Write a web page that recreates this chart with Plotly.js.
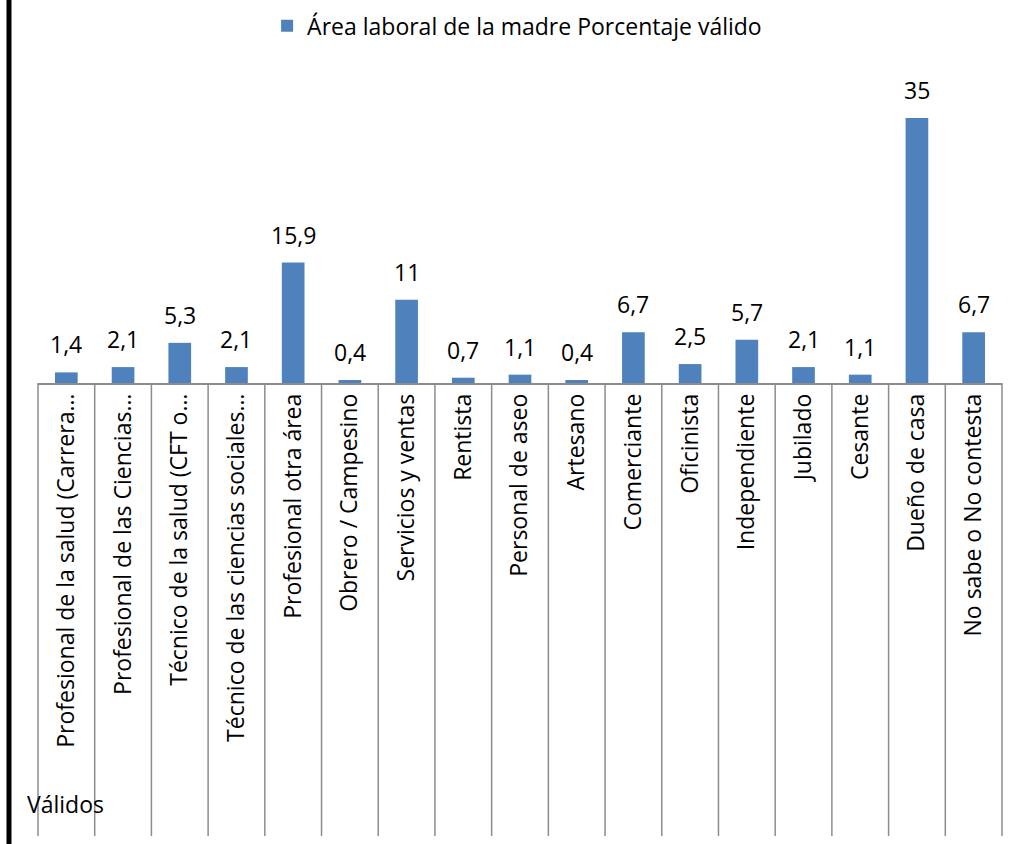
<!DOCTYPE html>
<html>
<head>
<meta charset="utf-8">
<script src="https://cdn.plot.ly/plotly-3.0.1.min.js"></script>
<style>html,body{margin:0;padding:0;background:#fff;}#chart{width:1019px;height:844px;}</style>
</head>
<body>
<div id="chart"></div>
<script>
const categories = [
  "Profesional de la salud (Carrera…",
  "Profesional de las Ciencias…",
  "Técnico de la salud (CFT o…",
  "Técnico de las ciencias sociales…",
  "Profesional otra área",
  "Obrero / Campesino",
  "Servicios y ventas",
  "Rentista",
  "Personal de aseo",
  "Artesano",
  "Comerciante",
  "Oficinista",
  "Independiente",
  "Jubilado",
  "Cesante",
  "Dueño de casa",
  "No sabe o No contesta"
];
const values = [1.4, 2.1, 5.3, 2.1, 15.9, 0.4, 11, 0.7, 1.1, 0.4, 6.7, 2.5, 5.7, 2.1, 1.1, 35, 6.7];
const seriesName = "Área laboral de la madre Porcentaje válido";
const groupLabel = "Válidos";

const FONT = "Open Sans, DejaVu Sans, sans-serif";
const FS = 23;
const n = categories.length;

const shapes = [];
for (let i = 0; i <= n; i++) {
  shapes.push({type: 'line', xref: 'paper', yref: 'paper', x0: i / n, x1: i / n, y0: 0, y1: -1.495,
    line: {color: '#8c8c8c', width: 1.5}});
}
shapes.push({type: 'line', xref: 'paper', yref: 'paper', x0: -0.0301, x1: -0.0301, y0: -1.6, y1: 1.4,
  line: {color: '#000000', width: 5}});

const annotations = values.map((v, i) => ({
  x: categories[i], y: v, xref: 'x', yref: 'y',
  text: String(v).replace('.', ','), showarrow: false,
  yanchor: 'bottom', yshift: 10,
  font: {family: FONT, size: FS, color: '#000'}
}));
annotations.push({xref: 'paper', yref: 'paper', x: -0.013, y: -1.39, xanchor: 'left', yanchor: 'middle',
  text: groupLabel, showarrow: false, font: {family: FONT, size: FS, color: '#000'}});

const trace = {
  type: 'bar', x: categories, y: values, name: seriesName,
  marker: {color: '#4F81BD'}, width: 0.4, showlegend: true
};

const layout = {
  width: 1019, height: 844,
  margin: {l: 38, r: 17, t: 80, b: 461},
  paper_bgcolor: '#fff', plot_bgcolor: '#fff',
  font: {family: FONT, size: FS, color: '#000'},
  showlegend: true,
  legend: {orientation: 'h', x: 0.497, xanchor: 'center', y: 0.995, yref: 'container', yanchor: 'top',
    font: {family: FONT, size: FS, color: '#000'}},
  xaxis: {type: 'category', range: [-0.5, n - 0.5], showline: true, linecolor: '#8c8c8c', linewidth: 1.5,
    ticks: '', tickangle: -90, showgrid: false, zeroline: false,
    tickfont: {family: FONT, size: FS, color: '#000'}, automargin: false},
  yaxis: {range: [0, 40], visible: false, showgrid: false, zeroline: false},
  shapes: shapes,
  annotations: annotations,
  bargap: 0.6
};

Plotly.newPlot('chart', [trace], layout, {displayModeBar: false, staticPlot: true});
</script>
</body>
</html>
